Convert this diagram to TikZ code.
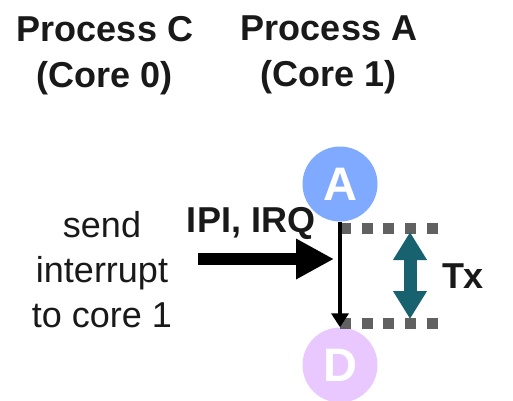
\documentclass[tikz,border=0pt]{standalone}
\usepackage{fontspec}
\setmainfont{Liberation Sans}
\usetikzlibrary{arrows.meta}
\definecolor{procA}{RGB}{128,170,255}
\definecolor{procD}{RGB}{232,200,255}
\definecolor{tealarrow}{RGB}{23,98,110}
\definecolor{dotgray}{RGB}{97,97,97}
\tikzset{
  title/.style={align=center, inner sep=0pt, anchor=north,
    font=\fontsize{36}{46}\selectfont\bfseries, text=black!90},
  proc/.style={circle, minimum size=75pt, inner sep=0pt, text=white,
    font=\fontsize{47}{47}\selectfont\bfseries},
  label/.style={inner sep=0pt, anchor=base, text=black!90,
    font=\fontsize{36}{36}\selectfont\bfseries},
  guide/.style={dotgray, line width=11pt, dash pattern=on 11pt off 10.7pt},
}
\begin{document}
\begin{tikzpicture}[x=1pt,y=-1pt]
  \useasboundingbox (0,0) rectangle (513,400);

  % column headings
  \node[title] (hc) at (105,16) {Process C\\(Core 0)};
  \node[title] (ha) at (329,16) {Process A\\(Core 1)};

  % process states on core 1
  \node[proc, fill=procA] (A) at (340,184) {A};
  \node[proc, fill=procD] (D) at (340,365) {D};

  % description of the interrupt
  \node[align=center, inner sep=0pt, anchor=north, text=black!90,
        font=\fontsize{36}{45}\selectfont] (send) at (102,211)
        {send\\interrupt\\to core 1};

  % time window guides
  \coordinate (g1a) at (340,228);
  \coordinate (g1b) at (440,228);
  \coordinate (g2a) at (340,323);
  \coordinate (g2b) at (440,323);
  \draw[guide] (g1a) -- (g1b);
  \draw[guide] (g2a) -- (g2b);

  % switch from A to D
  \draw[black, line width=3.5pt, -{Triangle[length=14pt,width=17pt]}]
        (A.south) -- (D.north);

  % interrupt arrow
  \coordinate (irqsrc) at (198,259);
  \coordinate (irqhit) at (334,259);
  \draw[black, line width=12pt, -{Triangle[length=38pt,width=38pt]}]
        (irqsrc) -- (irqhit);
  \node[label] (irq) at (251,232) {IPI, IRQ};

  % elapsed time
  \coordinate (txtop) at (410,232);
  \coordinate (txbot) at (410,319);
  \draw[tealarrow, line width=13pt,
        {Triangle[length=28pt,width=32pt]}-{Triangle[length=28pt,width=32pt]}]
        (txtop) -- (txbot);
  \node[label] (tx) at (463,288) {Tx};
\end{tikzpicture}
\end{document}
